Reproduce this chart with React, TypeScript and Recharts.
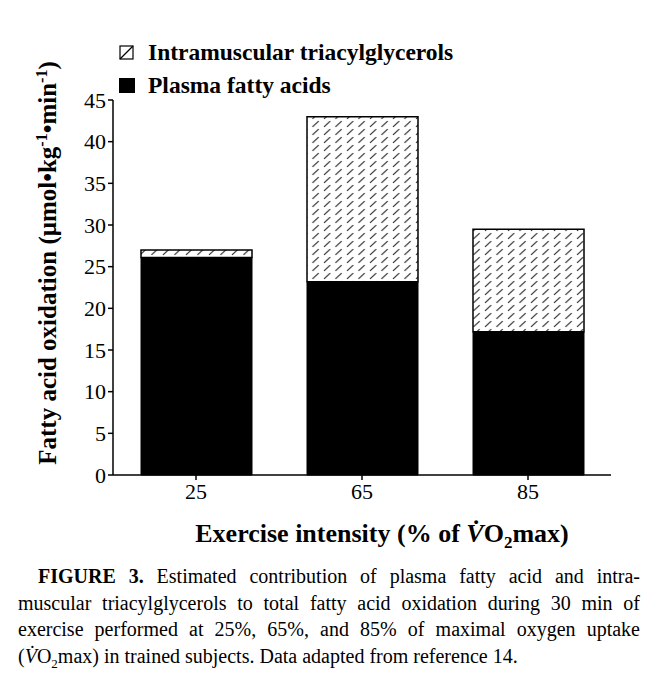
import React from 'react';
import { BarChart, Bar, XAxis, YAxis, Legend, Label } from 'recharts';

const INTENSITIES = ['25', '65', '85'];
const PLASMA_FA = [26.1, 23.2, 17.2];
const IMTG = [0.9, 19.8, 12.3];
const Y_TICKS = [0, 5, 10, 15, 20, 25, 30, 35, 40, 45];
const LEGEND_ITEMS = ['Intramuscular triacylglycerols', 'Plasma fatty acids'];

const FONT = '"Liberation Serif", "Times New Roman", serif';

const data = INTENSITIES.map((x, i) => ({
  intensity: x,
  plasma: PLASMA_FA[i],
  imtg: IMTG[i],
}));

const renderLegend = () => (
  <div style={{ fontFamily: FONT, fontWeight: 'bold', fontSize: 23.5, lineHeight: '33px' }}>
    {LEGEND_ITEMS.map((name, i) => (
      <div key={name} style={{ display: 'flex', alignItems: 'center' }}>
        <svg width={22} height={18} style={{ marginRight: 8 }}>
          {i === 0 ? (
            <g>
              <rect x={2} y={2} width={13} height={13} fill="#fff" stroke="#000" strokeWidth={1.2} />
              <line x1={2} y1={15} x2={15} y2={2} stroke="#000" strokeWidth={1.2} />
            </g>
          ) : (
            <rect x={1} y={1} width={16} height={15} fill="#000" />
          )}
        </svg>
        <span>{name}</span>
      </div>
    ))}
  </div>
);

const YLabel = () => (
  <text
    x={56}
    y={263}
    transform="rotate(-90 56 263)"
    textAnchor="middle"
    fontFamily={FONT}
    fontWeight="bold"
    fontSize={25}
    fill="#000"
  >
    Fatty acid oxidation (μmol•kg
    <tspan dy={-9} fontSize={16}>-1</tspan>
    <tspan dy={9}>•min</tspan>
    <tspan dy={-9} fontSize={16}>-1</tspan>
    <tspan dy={9}>)</tspan>
  </text>
);

const XLabel = () => (
  <text x={382} y={542} textAnchor="middle" fontFamily={FONT} fontWeight="bold" fontSize={26} fill="#000">
    Exercise intensity (% of{'  '}
    <tspan fontStyle="italic">V&#775;</tspan>O
    <tspan dy={6} fontSize={17}>2</tspan>
    <tspan dy={-6}>max)</tspan>
  </text>
);

const justified: React.CSSProperties = { textAlign: 'justify', textAlignLast: 'justify', whiteSpace: 'nowrap' };

export default function App() {
  return (
    <div style={{ position: 'absolute', left: 0, top: 0, width: 656, height: 681, background: '#fff' }}>
      <BarChart
        width={656}
        height={560}
        data={data}
        margin={{ top: 100, right: 45, left: 53, bottom: 5 }}
        barSize={111}
      >
        <defs>
          <pattern id="hatch" patternUnits="userSpaceOnUse" width={11.5} height={8}>
            <rect width={11.5} height={8} fill="#fff" />
            <line x1={2} y1={6.8} x2={8.2} y2={1.2} stroke="#222" strokeWidth={1.1} />
          </pattern>
        </defs>
        <XAxis
          dataKey="intensity"
          height={80}
          axisLine={{ stroke: '#000', strokeWidth: 1.5 }}
          tickLine={{ stroke: '#000', strokeWidth: 1.5 }}
          tickSize={5}
          tickMargin={3}
          tick={{ fill: '#000', fontSize: 22, fontFamily: FONT }}
        >
          <Label content={XLabel} />
        </XAxis>
        <YAxis
          width={60}
          domain={[0, 45]}
          ticks={Y_TICKS}
          interval={0}
          axisLine={{ stroke: '#000', strokeWidth: 1.5 }}
          tickLine={{ stroke: '#000', strokeWidth: 1.5 }}
          tickSize={5}
          tickMargin={2}
          tick={{ fill: '#000', fontSize: 22, fontFamily: FONT }}
        >
          <Label content={YLabel} />
        </YAxis>
        <Legend
          content={renderLegend}
          layout="horizontal"
          verticalAlign="middle"
          align="center"
          wrapperStyle={{ top: 36, left: 118, width: 'auto' }}
        />
        <Bar dataKey="plasma" stackId="a" fill="#000" stroke="#000" strokeWidth={1} isAnimationActive={false} />
        <Bar dataKey="imtg" stackId="a" fill="url(#hatch)" stroke="#000" strokeWidth={1.5} isAnimationActive={false} />
      </BarChart>
      <div
        style={{
          position: 'absolute',
          left: 18,
          top: 563,
          width: 622,
          fontFamily: FONT,
          fontSize: 20,
          lineHeight: '26.5px',
          color: '#000',
        }}
      >
        <div style={{ ...justified, paddingLeft: 20 }}>
          <b>FIGURE 3.</b> Estimated contribution of plasma fatty acid and intra-
        </div>
        <div style={justified}>muscular triacylglycerols to total fatty acid oxidation during 30 min of</div>
        <div style={justified}>exercise performed at 25%, 65%, and 85% of maximal oxygen uptake</div>
        <div style={{ whiteSpace: 'nowrap' }}>
          (<i>V&#775;</i>O<sub style={{ fontSize: 13 }}>2</sub>max) in trained subjects. Data adapted from reference 14.
        </div>
      </div>
    </div>
  );
}
